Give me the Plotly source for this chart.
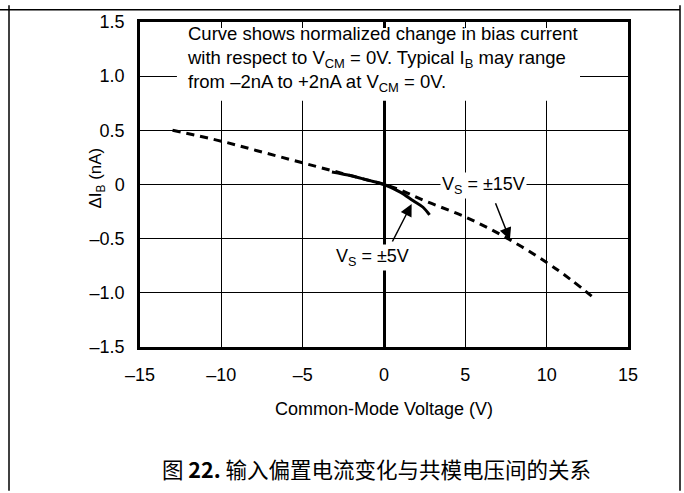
import plotly.graph_objects as go

# ---- data ----
vs15_x = [-13.0, -10.0, -7.5, -5.0, -2.5, 0.0, 1.0, 2.5, 5.0, 7.5, 10.0, 11.5, 13.0]
vs15_y = [0.50, 0.40, 0.30, 0.20, 0.10, 0.0, -0.05, -0.15, -0.30, -0.49, -0.72, -0.88, -1.06]

vs5_x = [-3.2, -2.0, -1.0, 0.0, 1.0, 1.8, 2.4, 2.8]
vs5_y = [0.115, 0.08, 0.04, 0.0, -0.07, -0.15, -0.21, -0.28]

x_ticks = [-15, -10, -5, 0, 5, 10, 15]
x_tick_text = ["–15", "–10", "–5", "0", "5", "10", "15"]
y_ticks = [-1.5, -1.0, -0.5, 0, 0.5, 1.0, 1.5]
y_tick_text = ["–1.5", "–1.0", "–0.5", "0", "0.5", "1.0", "1.5"]

FONT = "Liberation Sans, Arial, sans-serif"

fig = go.Figure()
fig.add_trace(go.Scatter(x=vs15_x, y=vs15_y, mode="lines",
                         line=dict(color="black", width=3, dash="8px,6px", shape="spline"),
                         showlegend=False, hoverinfo="skip"))
fig.add_trace(go.Scatter(x=vs5_x, y=vs5_y, mode="lines",
                         line=dict(color="black", width=3, shape="spline"),
                         showlegend=False, hoverinfo="skip"))

# margins: plot area from px 140..628 horizontally, 17..347 vertically
L, R, T, B = 140, 56, 17, 146
W, H = 684, 493
PW, PH = W - L - R, H - T - B

def px(xp):
    return (xp - L) / PW

def py(yp):
    return (H - B - yp) / PH

shapes = []
# white note box covering gridlines
shapes.append(dict(type="rect", xref="x", yref="y", x0=-12.73, x1=12.05, y0=0.773, y1=1.445,
                   fillcolor="white", line=dict(width=0), layer="above"))
# outer frame lines
shapes.append(dict(type="line", xref="paper", yref="paper", x0=px(0), x1=px(680),
                   y0=py(4.5), y1=py(4.5), line=dict(color="black", width=1.5)))
shapes.append(dict(type="line", xref="paper", yref="paper", x0=px(9), x1=px(9),
                   y0=py(0), y1=py(493), line=dict(color="black", width=1.5)))
shapes.append(dict(type="line", xref="paper", yref="paper", x0=px(680), x1=px(680),
                   y0=py(0), y1=py(493), line=dict(color="black", width=1.5)))

annotations = []
annotations.append(dict(
    x=-12.23, y=1.16, xref="x", yref="y", xanchor="left", yanchor="middle", align="left",
    showarrow=False, font=dict(family=FONT, size=18.5, color="black"),
    text=("Curve shows normalized change in bias current<br>"
          "with respect to V<sub>CM</sub> = 0V. Typical I<sub>B</sub> may range<br>"
          "from –2nA to +2nA at V<sub>CM</sub> = 0V.")))
# arrows
annotations.append(dict(x=7.74, y=-0.51, ax=6.82, ay=-0.16, xref="x", yref="y", axref="x", ayref="y",
                        text="", showarrow=True, arrowhead=2, arrowsize=1.6, arrowwidth=1.5,
                        arrowcolor="black"))
annotations.append(dict(x=1.70, y=-0.18, ax=0.47, ay=-0.54, xref="x", yref="y", axref="x", ayref="y",
                        text="", showarrow=True, arrowhead=2, arrowsize=1.6, arrowwidth=1.5,
                        arrowcolor="black"))
annotations.append(dict(x=6.12, y=-0.01, xref="x", yref="y", showarrow=False,
                        text="V<sub>S</sub> = ±15V", bgcolor="white", borderpad=1,
                        font=dict(family=FONT, size=18, color="black")))
annotations.append(dict(x=-0.71, y=-0.67, xref="x", yref="y", showarrow=False,
                        text="V<sub>S</sub> = ±5V", bgcolor="white", borderpad=1,
                        font=dict(family=FONT, size=18, color="black")))
# axis titles
annotations.append(dict(x=px(97), y=py(176), xref="paper", yref="paper", showarrow=False,
                        xanchor="center", yanchor="middle",
                        text="ΔI<sub>B</sub> (nA)", textangle=-90,
                        font=dict(family=FONT, size=17, color="black")))
annotations.append(dict(x=0.5, y=py(410), xref="paper", yref="paper", showarrow=False,
                        xanchor="center", yanchor="middle",
                        text="Common-Mode Voltage (V)",
                        font=dict(family=FONT, size=18, color="black")))
# caption
annotations.append(dict(x=px(376.5), y=py(470), xref="paper", yref="paper", showarrow=False,
                        xanchor="center", yanchor="middle",
                        text="图 <b>22.</b> 输入偏置电流变化与共模电压间的关系",
                        font=dict(family="Noto Sans CJK SC, Liberation Sans, sans-serif",
                                  size=21.5, color="black")))

fig.update_layout(
    width=W, height=H,
    margin=dict(l=L, r=R, t=T, b=B, pad=0),
    paper_bgcolor="white", plot_bgcolor="white",
    font=dict(family=FONT, size=18, color="black"),
    shapes=shapes, annotations=annotations,
    showlegend=False,
)
fig.update_xaxes(range=[-15, 15], tickvals=x_ticks, ticktext=x_tick_text,
                 showgrid=True, gridcolor="black", gridwidth=1,
                 zeroline=True, zerolinecolor="black", zerolinewidth=2.5,
                 showline=True, linecolor="black", linewidth=2.5, mirror=True,
                 ticks="", ticklabelstandoff=10, tickfont=dict(family=FONT, size=18),
                 fixedrange=True)
fig.update_yaxes(range=[-1.5, 1.5], tickvals=y_ticks, ticktext=y_tick_text,
                 showgrid=True, gridcolor="black", gridwidth=1,
                 zeroline=False,
                 showline=True, linecolor="black", linewidth=2.5, mirror=True,
                 ticks="", ticklabelstandoff=9, tickfont=dict(family=FONT, size=18),
                 fixedrange=True)

fig.write_html("out.html", config={"displayModeBar": False},
               post_script="document.body.style.margin='0';document.body.style.overflow='hidden';")
